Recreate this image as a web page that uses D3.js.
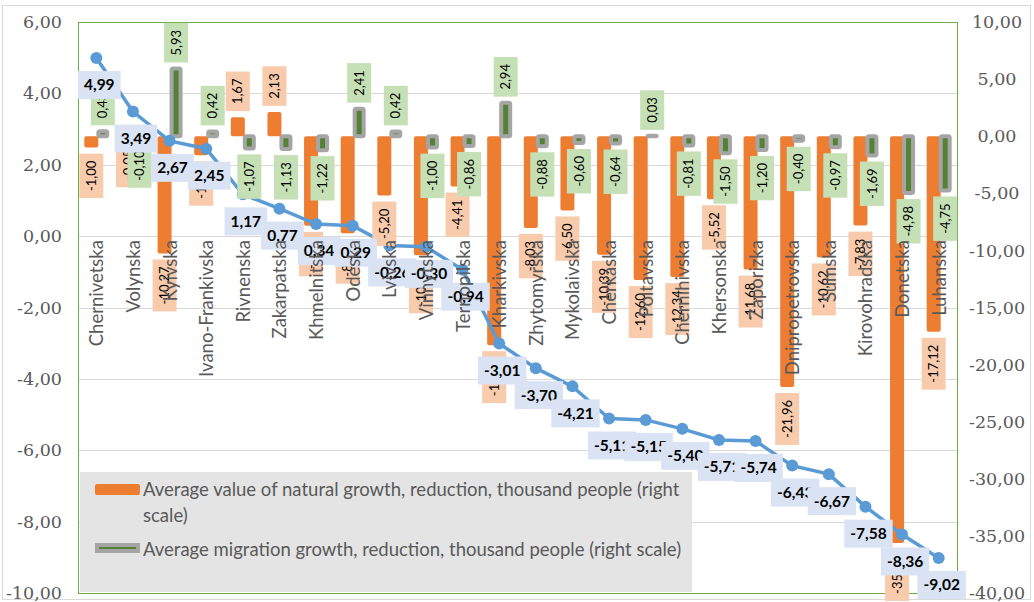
<!DOCTYPE html>
<meta charset="utf-8">
<style>

body {
  margin: 0;
  background: #fff;
}

text {
  font-family: Lato, "Open Sans", sans-serif;
}

.axis text {
  font-family: "DejaVu Serif", serif;
  font-size: 17.5px;
  fill: #595959;
}

.cat {
  font-size: 18.5px;
  fill: #595959;
}

.barlabel {
  font-size: 13px;
  fill: #000;
}

.linelabel {
  font-size: 15.5px;
  font-weight: bold;
  fill: #000;
}

.legend text {
  font-size: 18.5px;
  fill: #595959;
}

</style>
<svg></svg>
<script src="https://cdn.jsdelivr.net/npm/d3@7"></script>
<script>

var regions = ["Chernivetska", "Volynska", "Kyivska", "Ivano-Frankivska", "Rivnenska", "Zakarpatska",
  "Khmelnitska", "Odeska", "Lvivska", "Vinnytska", "Ternopilska", "Kharkivska", "Zhytomyrska",
  "Mykolaivska", "Cherkaska", "Poltavska", "Chernihivska", "Khersonska", "Zaporizka",
  "Dnipropetrovska", "Sumska", "Kirovohradska", "Donetska", "Luhanska"];

// line, left scale
var totalGrowth = [4.99, 3.49, 2.67, 2.45, 1.17, 0.77, 0.34, 0.29, -0.26, -0.30, -0.94, -3.01,
  -3.70, -4.21, -5.11, -5.15, -5.40, -5.71, -5.74, -6.43, -6.67, -7.58, -8.36, -9.02];

// bars, right scale
var naturalGrowth = [-1.00, -0.05, -10.27, -1.67, 1.67, 2.13, -7.85, -8.50, -5.20, -10.43, -4.41, -18.30,
  -8.03, -6.50, -10.39, -12.60, -12.34, -5.52, -11.68, -21.96, -10.62, -7.83, -35.62, -17.12];

var migrationGrowth = [0.43, -0.10, 5.93, 0.42, -1.07, -1.13, -1.22, 2.41, 0.42, -1.00, -0.86, 2.94,
  -0.88, -0.60, -0.64, 0.03, -0.81, -1.50, -1.20, -0.40, -0.97, -1.69, -4.98, -4.75];

var leftTicks = [6, 4, 2, 0, -2, -4, -6, -8, -10];
var rightTicks = [10, 5, 0, -5, -10, -15, -20, -25, -30, -35, -40];

var legendLines = [
  ["Average value of natural growth, reduction, thousand people (right", "scale)"],
  ["Average migration growth, reduction, thousand people (right scale)"]
];

var width = 1034,
    height = 602;

var plotLeft = 78, plotRight = 957, plotTop = 22, plotBottom = 593;

var fmt = function(v) { return d3.format(".2f")(v).replace(".", ",").replace("−", "-"); };

var svg = d3.select("svg")
    .attr("width", width)
    .attr("height", height);

// chart area border
svg.append("rect")
    .attr("x", 2.5).attr("y", 5.5)
    .attr("width", 1028).attr("height", 594)
    .attr("fill", "#fff")
    .attr("stroke", "#d9d9d9");

var x = d3.scaleBand()
    .domain(regions)
    .range([plotLeft, plotRight]);

var yL = d3.scaleLinear()
    .domain([-10, 6])
    .range([plotBottom, plotTop]);

var yR = d3.scaleLinear()
    .domain([-40, 10])
    .range([plotBottom, plotTop]);

function cx(d) { return x(d) + x.bandwidth() / 2; }

// gridlines
svg.append("g")
  .selectAll("line")
  .data(leftTicks)
  .enter().append("line")
    .attr("x1", plotLeft).attr("x2", plotRight)
    .attr("y1", function(d) { return Math.round(yL(d)) + 0.5; })
    .attr("y2", function(d) { return Math.round(yL(d)) + 0.5; })
    .attr("stroke", "#d9d9d9");

// axes
var axL = svg.append("g")
    .attr("class", "axis")
    .attr("transform", "translate(" + (plotLeft - 16) + ",0)")
    .call(d3.axisLeft(yL).tickValues(leftTicks).tickFormat(fmt).tickSize(0).tickPadding(0));
axL.select(".domain").remove();

var axR = svg.append("g")
    .attr("class", "axis")
    .attr("transform", "translate(" + (plotRight + 40) + ",0)")
    .call(d3.axisRight(yR).tickValues(rightTicks).tickFormat(fmt).tickSize(0).tickPadding(0));
axR.select(".domain").remove();
axR.selectAll("text").attr("text-anchor", "middle");

// plot border
svg.append("rect")
    .attr("x", plotLeft + 0.5).attr("y", plotTop + 0.5)
    .attr("width", plotRight - plotLeft).attr("height", plotBottom - plotTop)
    .attr("fill", "none")
    .attr("stroke", "#70ad47");

// natural growth bars
svg.append("g")
  .selectAll("rect")
  .data(naturalGrowth)
  .enter().append("rect")
    .attr("x", function(d, i) { return cx(regions[i]) - 12; })
    .attr("y", function(d) { return yR(Math.max(0, d)); })
    .attr("width", 14)
    .attr("height", function(d) { return Math.abs(yR(d) - yR(0)); })
    .attr("rx", 2)
    .attr("fill", "#ed7d31");

// migration bars
svg.append("g")
  .selectAll("rect")
  .data(migrationGrowth)
  .enter().append("rect")
    .attr("x", function(d, i) { return cx(regions[i]) + 2; })
    .attr("y", function(d) { return yR(Math.max(0, d)); })
    .attr("width", 9)
    .attr("height", function(d) { return Math.abs(yR(d) - yR(0)); })
    .attr("rx", 1.5)
    .attr("fill", "#548235")
    .attr("stroke", "#a5a5a5")
    .attr("stroke-width", 4);

// total line
var line = d3.line()
    .x(function(d, i) { return cx(regions[i]); })
    .y(function(d) { return yL(d); });

svg.append("path")
    .datum(totalGrowth)
    .attr("d", line)
    .attr("fill", "none")
    .attr("stroke", "#5b9bd5")
    .attr("stroke-width", 3.5);

svg.append("g")
  .selectAll("circle")
  .data(totalGrowth)
  .enter().append("circle")
    .attr("cx", function(d, i) { return cx(regions[i]); })
    .attr("cy", function(d) { return yL(d); })
    .attr("r", 6)
    .attr("fill", "#5b9bd5");

// vertical bar labels
function barLabels(data, dx, gap, fill) {
  var g = svg.append("g");
  data.forEach(function(v, i) {
    var lg = g.append("g");
    var box = lg.append("rect").attr("fill", fill);
    var t = lg.append("text")
        .attr("class", "barlabel")
        .attr("text-anchor", "middle")
        .attr("transform", "rotate(-90)")
        .attr("dy", "0.35em")
        .text(fmt(v));
    var h = t.node().getComputedTextLength() + 14,
        w = 24;
    var end = yR(v),
        mx = cx(regions[i]) + dx,
        my = v < 0 ? end + gap + h / 2 : end - gap - h / 2;
    box.attr("x", -w / 2).attr("y", -h / 2).attr("width", w).attr("height", h);
    lg.attr("transform", "translate(" + mx + "," + my + ")");
  });
}

barLabels(naturalGrowth, -5, 6, "#f8cbad");
barLabels(migrationGrowth, 6.5, 6, "#c5e0b4");

// line labels
var ll = svg.append("g");
totalGrowth.forEach(function(v, i) {
  var lg = ll.append("g")
      .attr("transform", "translate(" + (cx(regions[i]) + 3) + "," + (yL(v) + 27) + ")");
  var box = lg.append("rect").attr("fill", "#dae3f3");
  var t = lg.append("text")
      .attr("class", "linelabel")
      .attr("text-anchor", "middle")
      .attr("dy", "0.35em")
      .text(fmt(v));
  var w = t.node().getComputedTextLength() + 12;
  box.attr("x", -w / 2).attr("y", -14).attr("width", w).attr("height", 28);
});

// category labels
svg.append("g")
  .selectAll("text")
  .data(regions)
  .enter().append("text")
    .attr("class", "cat")
    .attr("text-anchor", "end")
    .attr("transform", function(d) { return "translate(" + (cx(d) + 7) + "," + (yL(0) + 4) + ") rotate(-90)"; })
    .text(function(d) { return d; });

// legend
var legend = svg.append("g")
    .attr("class", "legend")
    .attr("transform", "translate(80,472)");

legend.append("rect")
    .attr("width", 612)
    .attr("height", 120)
    .attr("fill", "#e4e4e4");

legend.append("rect")
    .attr("x", 15).attr("y", 12)
    .attr("width", 45).attr("height", 11)
    .attr("rx", 2)
    .attr("fill", "#ed7d31");

legend.append("rect")
    .attr("x", 17).attr("y", 73)
    .attr("width", 41).attr("height", 6)
    .attr("fill", "#548235")
    .attr("stroke", "#a5a5a5")
    .attr("stroke-width", 4);

legendLines.forEach(function(lines, k) {
  var t = legend.append("text")
      .attr("x", 63)
      .attr("y", k == 0 ? 24 : 84);
  lines.forEach(function(s, j) {
    t.append("tspan")
        .attr("x", 63)
        .attr("dy", j == 0 ? 0 : 26)
        .text(s);
  });
});

</script>
